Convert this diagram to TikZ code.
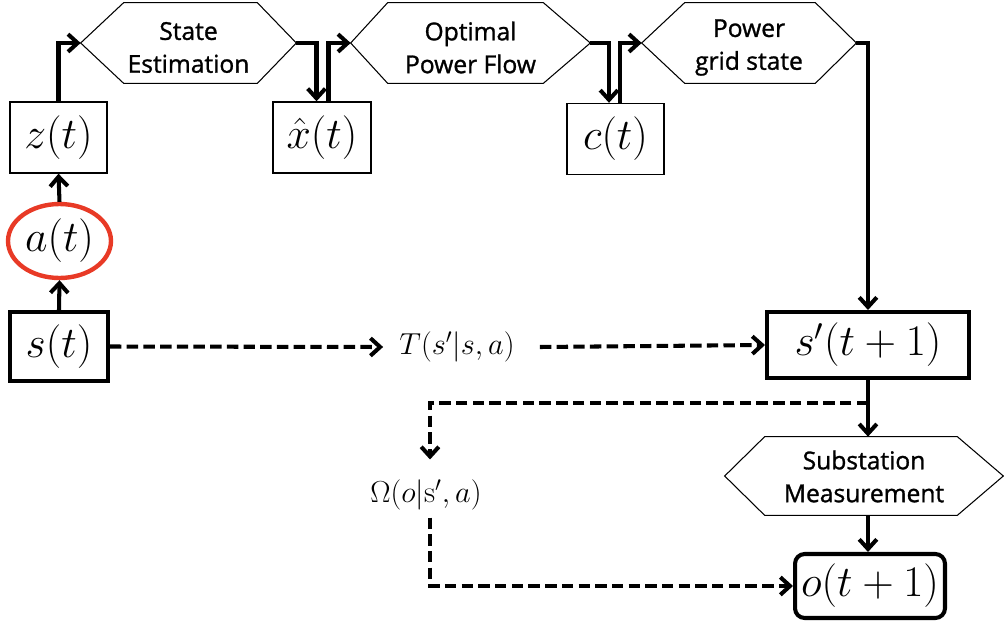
\documentclass[tikz,border=0pt]{standalone}
\usepackage{fontspec}
\newfontfamily\hexfont{Open Sans}[FakeBold=1.2]
\usetikzlibrary{arrows.meta,calc,shapes.geometric}
\definecolor{ringred}{RGB}{232,58,38}
\begin{document}
\begin{tikzpicture}[x=0.02cm,y=-0.02cm,
  mathfont/.style={font=\fontsize{24}{28}\selectfont},
  varbox/.style={draw, line width=0.8pt, minimum width=1.94cm, minimum height=1.42cm, inner sep=0pt, mathfont},
  statebox/.style={draw, line width=2.3pt, inner sep=0pt, mathfont},
  hexshape/.style={minimum height=1.6cm, inner sep=0pt},
  hextext/.style={align=center, inner sep=0pt, yshift=-0.09cm, font=\hexfont\fontsize{14}{18.7}\selectfont},
  hexline/.style={line width=0.6pt},
  flow/.style={line width=2.3pt, -{Straight Barb[length=5.5pt,width=10pt]}},
  prob/.style={line width=2.3pt, dash pattern=on 6.5pt off 3pt},
  probarrow/.style={prob, -{Straight Barb[length=5.5pt,width=10pt]}},
  problabel/.style={inner sep=0pt, font=\fontsize{17.5}{20}\selectfont}
]
\useasboundingbox (0,0) rectangle (1004,625);

% variables along the top row
\node[varbox] (z) at (58.5,137.5) {$z(t)$};
\node[varbox, minimum width=1.96cm] (xh) at (322,137.5) {$\hat{x}(t)$};
\node[varbox] (c) at (615.5,139) {$c(t)$};

% processing stages (hexagons)
\node[hexshape, minimum width=4.3cm, label={[hextext, name=seT]center:State\\Estimation}] (se) at (188.5,43) {};
\node[hexshape, minimum width=4.78cm, label={[hextext, name=opfT]center:Optimal\\Power Flow}] (opf) at (470.5,43) {};
\node[hexshape, minimum width=4.28cm, label={[hextext, name=pgsT]center:Power\\grid state}] (pgs) at (749,43) {};
\node[hexshape, minimum width=5.56cm, minimum height=1.56cm, label={[hextext, yshift=0.08cm, name=subT]center:Substation\\Measurement}] (sub) at (864,476) {};
\foreach \n/\l/\r in {se/0.86/0.78, opf/0.74/0.94, pgs/0.86/0.82, sub/0.8/0.92}
  \draw[hexline] (\n.west) -- ([xshift=\l cm]\n.north west) -- ([xshift=-\r cm]\n.north east)
    -- (\n.east) -- ([xshift=-\r cm]\n.south east) -- ([xshift=\l cm]\n.south west) -- cycle;

% action, states and observation
\node[draw=ringred, line width=2.5pt, ellipse, minimum width=2.06cm, minimum height=1.48cm, inner sep=0pt, mathfont] (a) at (59.5,241) {$a(t)$};
\node[statebox, minimum width=1.96cm, minimum height=1.38cm] (s) at (59,346.5) {$s(t)$};
\node[statebox, minimum width=4.04cm, minimum height=1.32cm] (sp) at (868,345) {$s'(t+1)$};
\node[statebox, rounded corners=5.5pt, minimum width=3.0cm, minimum height=1.28cm] (o) at (870,586) {$o(t+1)$};

% transition and observation probabilities
\node[problabel] (T) at (457,347) {$T(s'|s,a)$};
\node[problabel] (om) at (426,495) {$\Omega(o|\mathrm{s}',a)$};

% solid flow
\draw[flow] (s.north) -- (a.south);
\draw[flow] (a.north) -- (z.south);
\draw[flow] (z.north) |- (se.west);
\draw[flow] (se.east) -| ([xshift=-0.11cm]xh.north);
\draw[flow] ([xshift=0.13cm]xh.north) |- (opf.west);
\draw[flow] (opf.east) -| ([xshift=-0.13cm]c.north);
\draw[flow] ([xshift=0.09cm]c.north) |- (pgs.west);
\draw[flow] (pgs.east) -| (sp.north);
\draw[flow] (sp.south) -- (sp.south |- sub.north);
\draw[flow] (sub.south -| sp.south) -- (o.north -| sp.south);

% dashed probabilistic links
\draw[probarrow] (s.east) -- ([xshift=-0.32cm]T.west);
\draw[probarrow] ([xshift=0.5cm]T.east) -- (sp.west);
\coordinate (br) at ($(sp.south)+(0,23)$);
\draw[probarrow] (br) -| ([xshift=0.08cm,yshift=0.4cm]om.north);
\draw[probarrow] ([xshift=0.08cm,yshift=-0.14cm]om.south) |- (o.west);
\end{tikzpicture}
\end{document}
